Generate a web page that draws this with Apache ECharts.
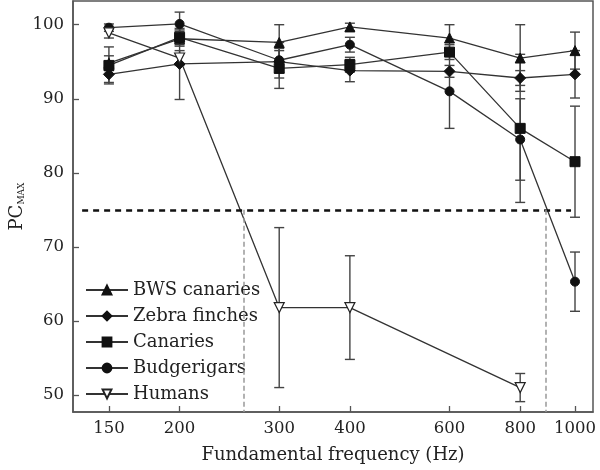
<!DOCTYPE html>
<html><head><meta charset="utf-8">
<script src="https://cdn.jsdelivr.net/npm/echarts@6/dist/echarts.min.js"></script>
<style>html,body{margin:0;padding:0;background:#fff}#c{width:600px;height:470px}</style>
</head><body><div id="c"></div>
<script>
// ---- data ----
const freqTicks = [150, 200, 300, 400, 600, 800, 1000];
const yTicks = [50, 60, 70, 80, 90, 100];
const birdFreq = [150, 200, 300, 400, 600, 800, 1000];
const bwsPc = [94.8, 98.1, 97.6, 99.7, 98.2, 95.5, 96.5];
const bwsErr = [1.0, 1.0, 2.4, 0.5, 1.8, 4.5, 2.5];
const zebraPc = [93.3, 94.7, 95.0, 93.8, 93.7, 92.8, 93.3];
const zebraErr = [1.1, 4.8, 1.5, 1.5, 0.8, 1.0, 3.2];
const canPc = [94.5, 98.3, 94.1, 94.6, 96.3, 86.0, 81.5];
const canErr = [2.5, 1.0, 2.7, 1.0, 1.0, 10.0, 7.5];
const budPc = [99.6, 100.1, 95.2, 97.3, 91.0, 84.5, 65.3];
const budErr = [0.5, 1.6, 2.4, 1.0, 5.0, 5.5, 4.0];
const humFreq = [150, 200, 300, 400, 800];
const humPc = [98.9, 95.5, 61.8, 61.8, 51.0];
const humErr = [0.7, 1.0, 10.8, 7.0, 1.9];
const threshold = 75;
const thresholdSpan = [134.5, 984];
const crossFreqs = [260, 889];
const xRange = [129.6, 1076];
const yRange = [47.7, 103.2];

const FONT = 'DejaVu Serif';
const names = ['BWS canaries', 'Zebra finches', 'Canaries', 'Budgerigars', 'Humans'];

function pts(xs, ys) { return xs.map((x, i) => [x, ys[i]]); }
function errs(xs, ys, es) { return xs.map((x, i) => [x, ys[i] - es[i], ys[i] + es[i]]); }

function errSeries(data) {
  return {
    type: 'custom', silent: true, z: 1,
    renderItem: function (params, api) {
      const x = api.value(0), lo = api.value(1), hi = api.value(2);
      const a = api.coord([x, hi]), b = api.coord([x, lo]);
      const w = 5;
      const st = { stroke: '#444', lineWidth: 1.4 };
      return { type: 'group', children: [
        { type: 'line', shape: { x1: a[0], y1: a[1], x2: b[0], y2: b[1] }, style: st },
        { type: 'line', shape: { x1: a[0] - w, y1: a[1], x2: a[0] + w, y2: a[1] }, style: st },
        { type: 'line', shape: { x1: b[0] - w, y1: b[1], x2: b[0] + w, y2: b[1] }, style: st }
      ]};
    },
    encode: { x: 0, y: [1, 2] },
    data: data
  };
}

function lineSeries(name, data, symbol, size, extra) {
  return Object.assign({
    name: name, type: 'line', data: data, symbol: symbol, symbolSize: size,
    z: 3,
    lineStyle: { color: '#333', width: 1.3 },
    itemStyle: { color: '#111', borderColor: '#111', borderWidth: 1 },
    emphasis: { disabled: true }, animation: false
  }, extra || {});
}

const chart = echarts.init(document.getElementById('c'), null, { renderer: 'canvas' });
chart.setOption({
  animation: false,
  grid: { left: 73, right: 7, top: 1, bottom: 58, containLabel: false, outerBoundsMode: 'none', show: true, borderColor: '#555', borderWidth: 1.5, backgroundColor: 'transparent' },
  legend: {
    orient: 'vertical', left: 80, top: 276, itemWidth: 42, itemHeight: 11, itemGap: 8,
    data: names,
    textStyle: { fontFamily: FONT, fontSize: 18, color: '#222' },
    inactiveColor: '#222'
  },
  xAxis: {
    type: 'log', min: xRange[0], max: xRange[1], logBase: 10,
    name: 'Fundamental frequency (Hz)', nameLocation: 'middle', nameGap: 34,
    nameTextStyle: { fontFamily: FONT, fontSize: 18, color: '#222' },
    axisLine: { show: true, lineStyle: { color: '#555', width: 1.5 } },
    axisTick: { show: true, inside: true, length: 6, customValues: freqTicks, lineStyle: { color: '#555', width: 1.3 } },
    axisLabel: { customValues: freqTicks, fontFamily: FONT, fontSize: 16.5, color: '#222', margin: 8, formatter: v => String(Math.round(v)) },
    splitLine: { show: false }, minorTick: { show: false }
  },
  yAxis: {
    type: 'value', min: yRange[0], max: yRange[1],
    name: '{a|PC}{b|MAX}', nameLocation: 'middle', nameGap: 47, nameMoveOverlap: false,
    nameTextStyle: { rich: { a: { fontFamily: FONT, fontSize: 18, color: '#222' }, b: { fontFamily: FONT, fontSize: 9, color: '#222', verticalAlign: 'bottom', padding: [8, 0, 0, 0] } } },
    axisLine: { show: true, lineStyle: { color: '#555', width: 1.5 } },
    axisTick: { show: true, inside: true, length: 6, customValues: yTicks, lineStyle: { color: '#555', width: 1.3 } },
    axisLabel: { customValues: yTicks, fontFamily: FONT, fontSize: 16.5, color: '#222', margin: 9 },
    splitLine: { show: false }
  },
  series: [
    errSeries(errs(birdFreq, bwsPc, bwsErr)),
    errSeries(errs(birdFreq, zebraPc, zebraErr)),
    errSeries(errs(birdFreq, canPc, canErr)),
    errSeries(errs(birdFreq, budPc, budErr)),
    errSeries(errs(humFreq, humPc, humErr)),
    lineSeries(names[0], pts(birdFreq, bwsPc), 'triangle', 10),
    lineSeries(names[1], pts(birdFreq, zebraPc), 'diamond', 11),
    lineSeries(names[2], pts(birdFreq, canPc), 'rect', 10),
    lineSeries(names[3], pts(birdFreq, budPc), 'circle', 9),
    lineSeries(names[4], pts(humFreq, humPc), 'triangle', 10, {
      symbolRotate: 180,
      itemStyle: { color: '#fff', borderColor: '#222', borderWidth: 1.2 },
      markLine: {
        silent: true, symbol: 'none', label: { show: false }, animation: false,
        data: [
          [{ coord: [thresholdSpan[0], threshold], lineStyle: { color: '#111', width: 2.5, type: [6, 5] } }, { coord: [thresholdSpan[1], threshold] }],
          [{ coord: [crossFreqs[0], threshold], lineStyle: { color: '#999', width: 1.5, type: [5, 3] } }, { coord: [crossFreqs[0], yRange[0]] }],
          [{ coord: [crossFreqs[1], threshold], lineStyle: { color: '#999', width: 1.5, type: [5, 3] } }, { coord: [crossFreqs[1], yRange[0]] }]
        ]
      }
    })
  ]
});
</script></body></html>
